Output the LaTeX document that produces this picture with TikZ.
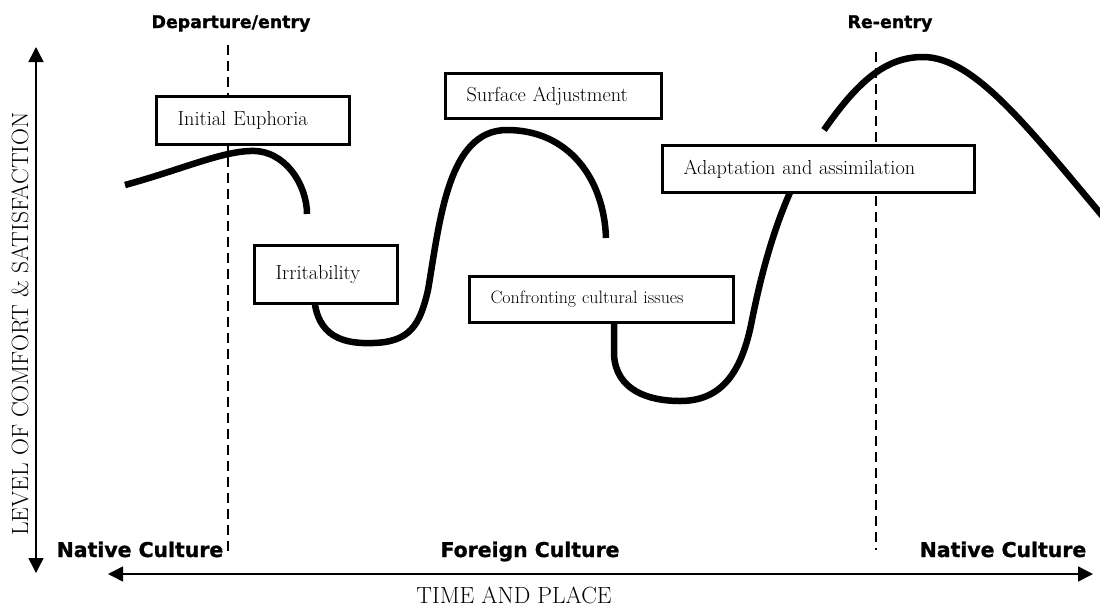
\documentclass[tikz,border=0pt]{standalone}
\usepackage{fontspec}
\usepackage{tikz}
\usetikzlibrary{arrows.meta}
\newfontfamily\headfont{DejaVu Sans}[BoldFeatures={FakeBold=1.2}]

\begin{document}
\begin{tikzpicture}[x=1pt,y=-1pt,
    stagebox/.style={draw,line width=3pt,fill=white,anchor=north west,align=left,
        inner xsep=21pt,inner ysep=0pt,font=\fontsize{20.3}{24}\selectfont},
    wave/.style={line width=6.5pt},
    phase/.style={anchor=base,font=\headfont\bfseries\fontsize{20.4}{24}\selectfont},
    marker/.style={anchor=base,font=\headfont\bfseries\fontsize{17.4}{21}\selectfont},
    border/.style={line width=1.5pt,dash pattern=on 10pt off 6pt},
    axistip/.style={{Triangle[length=15pt,width=15pt]}-{Triangle[length=15pt,width=15pt]},line width=1.5pt}]
                \useasboundingbox (0,0) rectangle (1100,606);
                % Axes
                \coordinate (ytop) at (36,47);
                \coordinate (ybot) at (36,573);
                \coordinate (xleft) at (108,574);
                \coordinate (xright) at (1093,574);
                \draw[axistip] (ytop) -- (ybot);
                \draw[axistip] (xleft) -- (xright);
                \node[rotate=90,font=\fontsize{23.5}{26}\selectfont] (ylabel) at (20,324) {LEVEL OF COMFORT \& SATISFACTION};
                \node[anchor=base,font=\fontsize{23.4}{26}\selectfont] (xlabel) at (514,603) {TIME AND PLACE};
                % Borders between cultures
                \draw[border] (228,45) -- (228,552);
                \draw[border] (876,52) -- (876,550);
                \node[marker] (departure) at (231,28) {Departure/entry};
                \node[marker] (reentry) at (890,28) {Re-entry};
                \node[phase] (nativeleft) at (140,557) {Native Culture};
                \node[phase] (foreign) at (530,557) {Foreign Culture};
                \node[phase] (nativeright) at (1003,557) {Native Culture};
                % Adjustment curve
                \draw[wave] (125,185) .. controls (180,170) and (220,152) .. (250,151)
                    .. controls (285,149) and (307,185) .. (307,214);
                \draw[wave] (314,295) .. controls (316,338) and (345,344) .. (373,343)
                    .. controls (410,342) and (420,325) .. (428,290)
                    .. controls (440,220) and (448,130) .. (507,130)
                    .. controls (568,130) and (604,178) .. (606,238);
                \draw[wave] (614,318) -- (614,355) .. controls (616,390) and (648,401) .. (680,401)
                    .. controls (722,401) and (742,372) .. (752,320)
                    .. controls (760,280) and (772,232) .. (792,188);
                \draw[wave] (824,130) .. controls (860,78) and (888,57) .. (923,57)
                    .. controls (975,57) and (1030,130) .. (1110,225);
                % Stages
                \node[stagebox,minimum height=48pt,text width=151pt] (euphoria) at (155,95) {Initial Euphoria};
                \node[stagebox,minimum height=58pt,text width=101pt] (irritability) at (253,244) {Irritability};
                \node[stagebox,minimum height=45pt,text width=174pt] (surface) at (444,72) {Surface Adjustment};
                \node[stagebox,minimum height=46pt,text width=222pt,font=\fontsize{17.9}{21}\selectfont] (confronting) at (468,275) {Confronting cultural issues};
                \node[stagebox,minimum height=47pt,text width=270pt] (adaptation) at (661,144) {Adaptation and assimilation};
            \end{tikzpicture}
\end{document}
